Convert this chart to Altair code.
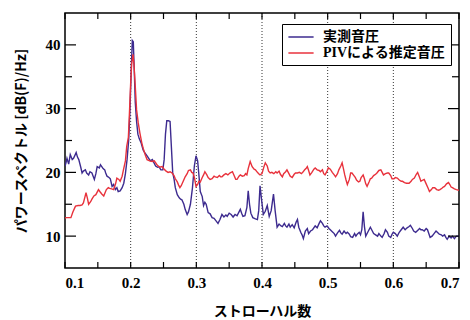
import altair as alt
import pandas as pd

# 実測音圧 (measured)
blue_st = [0.100, 0.1015, 0.103, 0.1056, 0.108, 0.111, 0.113, 0.117, 0.119, 0.121, 0.124, 0.126, 0.128, 0.131, 0.133,
           0.136, 0.138, 0.141, 0.1447, 0.147, 0.149, 0.1523, 0.154, 0.156, 0.158, 0.1605, 0.162, 0.164, 0.167, 0.169,
           0.1717, 0.174, 0.1767, 0.179, 0.181, 0.184, 0.187, 0.1895, 0.192, 0.1945, 0.197, 0.199, 0.201, 0.2025, 0.204,
           0.2055, 0.207, 0.209, 0.211, 0.213, 0.216, 0.219, 0.222, 0.225, 0.2275, 0.230, 0.233, 0.235, 0.238, 0.241,
           0.243, 0.246, 0.249, 0.251, 0.253, 0.255, 0.2575, 0.260, 0.262, 0.264, 0.266, 0.268, 0.271, 0.274, 0.276,
           0.278, 0.281, 0.283, 0.286, 0.288, 0.291, 0.294, 0.297, 0.2995, 0.302, 0.304, 0.306, 0.309, 0.311, 0.313,
           0.315, 0.318, 0.321, 0.324, 0.327, 0.330, 0.333, 0.336, 0.339, 0.342, 0.345, 0.347, 0.350, 0.353, 0.356,
           0.359, 0.362, 0.365, 0.367, 0.369, 0.371, 0.374, 0.377, 0.379, 0.381, 0.383, 0.386, 0.390, 0.393, 0.395,
           0.397, 0.399, 0.402, 0.405, 0.408, 0.411, 0.414, 0.4175, 0.420, 0.423, 0.426, 0.429, 0.431, 0.434, 0.436,
           0.438, 0.441, 0.443, 0.446, 0.449, 0.452, 0.454, 0.456, 0.459, 0.461, 0.463, 0.466, 0.469, 0.471, 0.474,
           0.477, 0.481, 0.484, 0.487, 0.489, 0.492, 0.494, 0.496, 0.499, 0.502, 0.504, 0.507, 0.510, 0.512, 0.515,
           0.518, 0.520, 0.522, 0.525, 0.528, 0.530, 0.533, 0.535, 0.538, 0.541, 0.543, 0.545, 0.548, 0.550, 0.552,
           0.554, 0.556, 0.558, 0.561, 0.563, 0.565, 0.568, 0.570, 0.573, 0.576, 0.578, 0.581, 0.583, 0.586, 0.588,
           0.591, 0.593, 0.596, 0.598, 0.600, 0.603, 0.606, 0.609, 0.612, 0.615, 0.618, 0.621, 0.624, 0.626, 0.629,
           0.631, 0.634, 0.637, 0.640, 0.642, 0.644, 0.647, 0.650, 0.652, 0.654, 0.656, 0.659, 0.662, 0.665, 0.667,
           0.670, 0.673, 0.675, 0.678, 0.680, 0.682, 0.685, 0.688, 0.690, 0.693, 0.696, 0.700]
blue_db = [21.0, 21.5, 22.2, 21.3, 22.8, 22.0, 22.2, 23.1, 22.4, 22.0, 20.8, 19.9, 20.2, 20.4, 19.9,
           19.6, 20.1, 19.9, 18.9, 19.8, 20.9, 20.7, 21.2, 20.9, 20.6, 20.4, 19.9, 19.4, 19.2, 19.0,
           17.8, 18.1, 17.3, 17.6, 17.0, 17.1, 17.6, 18.3, 19.8, 22.0, 25.1, 30.0, 36.5, 40.7, 40.5,
           36.0, 31.0, 28.0, 26.0, 25.3, 24.6, 23.5, 23.0, 22.6, 22.2, 21.8, 22.0, 21.6, 21.0, 20.8,
           20.9, 20.4, 20.4, 22.0, 26.0, 28.1, 28.1, 28.0, 24.0, 20.0, 19.0, 17.6, 16.5, 16.0, 15.8,
           15.7, 15.0, 14.2, 13.4, 13.8, 15.0, 17.5, 21.0, 22.6, 21.8, 19.5, 17.0, 16.2, 14.8, 15.3,
           15.0, 13.7, 13.5, 12.9, 12.8, 12.4, 12.0, 12.6, 13.4, 13.0, 13.3, 13.1, 13.6, 13.4, 13.0,
           13.4, 13.2, 13.8, 14.2, 13.6, 13.1, 13.2, 14.5, 17.1, 15.0, 13.6, 12.9, 12.7, 12.6, 14.0,
           17.9, 16.0, 13.4, 13.9, 14.8, 13.1, 14.0, 16.6, 14.0, 11.4, 11.9, 11.6, 11.5, 12.0, 11.6,
           11.4, 11.9, 11.4, 11.8, 11.3, 12.2, 12.6, 11.4, 10.6, 10.2, 9.6, 10.8, 11.2, 10.4, 10.8,
           11.0, 11.6, 11.3, 12.0, 12.4, 12.0, 11.6, 11.4, 11.6, 11.2, 11.0, 10.7, 10.4, 10.0, 10.5,
           10.9, 10.5, 10.3, 10.8, 10.4, 10.6, 10.3, 9.9, 9.8, 10.4, 10.0, 10.3, 10.6, 10.2, 11.0,
           13.8, 11.5, 10.0, 10.6, 11.0, 11.4, 10.8, 10.4, 10.2, 10.0, 10.4, 10.0, 9.8, 10.4, 11.0,
           10.6, 10.0, 9.8, 10.3, 10.6, 10.4, 10.0, 10.6, 11.0, 11.4, 11.0, 11.3, 11.5, 11.7, 11.2,
           10.8, 10.6, 10.9, 11.2, 11.0, 11.0, 10.8, 11.2, 11.0, 10.4, 9.8, 10.0, 10.4, 10.8, 10.6,
           10.3, 10.2, 10.0, 10.2, 9.8, 9.5, 10.0, 9.7, 10.0, 9.6, 10.0, 10.0]

# PIVによる推定音圧 (estimated)
red_st = [0.100, 0.1015, 0.105, 0.109, 0.112, 0.116, 0.120, 0.123, 0.126, 0.128, 0.130, 0.132, 0.134, 0.136, 0.139,
          0.141, 0.144, 0.147, 0.149, 0.151, 0.153, 0.156, 0.159, 0.161, 0.163, 0.166, 0.168, 0.171, 0.174, 0.177,
          0.179, 0.182, 0.184, 0.187, 0.189, 0.192, 0.194, 0.1965, 0.198, 0.200, 0.2015, 0.2035, 0.205, 0.207, 0.209,
          0.2115, 0.214, 0.217, 0.219, 0.222, 0.225, 0.229, 0.233, 0.236, 0.240, 0.244, 0.248, 0.251, 0.254, 0.257,
          0.260, 0.263, 0.266, 0.268, 0.271, 0.273, 0.275, 0.277, 0.280, 0.283, 0.286, 0.288, 0.291, 0.293, 0.295,
          0.297, 0.2995, 0.302, 0.304, 0.306, 0.309, 0.311, 0.313, 0.316, 0.318, 0.321, 0.324, 0.327, 0.329, 0.332,
          0.335, 0.337, 0.339, 0.342, 0.345, 0.348, 0.351, 0.353, 0.355, 0.358, 0.360, 0.362, 0.365, 0.367, 0.370,
          0.373, 0.375, 0.377, 0.379, 0.382, 0.385, 0.388, 0.390, 0.393, 0.395, 0.397, 0.400, 0.403, 0.405, 0.408,
          0.410, 0.4125, 0.415, 0.418, 0.421, 0.423, 0.426, 0.428, 0.431, 0.433, 0.436, 0.438, 0.441, 0.443, 0.446,
          0.449, 0.451, 0.454, 0.457, 0.460, 0.462, 0.465, 0.467, 0.469, 0.471, 0.473, 0.476, 0.479, 0.481, 0.484,
          0.487, 0.489, 0.492, 0.494, 0.496, 0.499, 0.501, 0.504, 0.507, 0.510, 0.512, 0.515, 0.517, 0.520, 0.522,
          0.524, 0.526, 0.528, 0.530, 0.533, 0.535, 0.537, 0.540, 0.542, 0.544, 0.547, 0.549, 0.551, 0.554, 0.556,
          0.558, 0.560, 0.563, 0.565, 0.567, 0.570, 0.573, 0.575, 0.578, 0.581, 0.583, 0.585, 0.588, 0.591, 0.593,
          0.596, 0.598, 0.601, 0.603, 0.606, 0.609, 0.612, 0.614, 0.617, 0.620, 0.622, 0.624, 0.627, 0.629, 0.632,
          0.635, 0.637, 0.640, 0.642, 0.645, 0.647, 0.650, 0.653, 0.655, 0.658, 0.660, 0.663, 0.666, 0.669, 0.671,
          0.674, 0.676, 0.678, 0.681, 0.684, 0.686, 0.688, 0.690, 0.693, 0.696, 0.700]
red_db = [12.8, 12.9, 12.9, 12.9, 13.8, 14.7, 14.8, 14.8, 14.9, 15.2, 16.0, 16.8, 16.0, 15.0, 15.4,
          15.8, 16.3, 16.5, 16.9, 17.3, 17.0, 16.6, 16.3, 16.8, 17.3, 17.6, 17.5, 17.4, 17.3, 18.2,
          19.1, 18.9, 18.6, 19.4, 20.4, 21.8, 24.1, 25.5, 29.0, 34.0, 37.0, 38.5, 37.0, 33.5, 29.8,
          27.8, 26.2, 24.6, 23.8, 22.8, 22.0, 21.8, 21.7, 21.8, 21.2, 20.8, 20.9, 20.5, 20.2, 20.0,
          20.1, 19.9, 19.5, 19.0, 18.5, 18.0, 17.6, 17.9, 18.6, 19.3, 19.8, 20.3, 20.4, 20.0, 19.9,
          19.2, 17.8, 18.1, 18.6, 18.5, 19.2, 19.6, 20.1, 19.6, 19.2, 18.9, 19.0, 19.4, 19.3, 19.2,
          19.5, 19.3, 19.3, 19.6, 19.8, 19.6, 19.9, 20.0, 20.1, 19.4, 18.9, 18.9, 19.4, 19.6, 19.4,
          19.5, 19.8, 19.6, 20.6, 21.7, 20.9, 20.5, 20.4, 20.0, 19.8, 19.6, 19.8, 20.9, 21.5, 21.0,
          20.2, 19.9, 20.0, 19.8, 20.1, 19.9, 20.2, 19.7, 19.3, 19.8, 20.1, 20.4, 19.8, 19.4, 19.2,
          19.7, 19.9, 19.9, 20.0, 19.8, 20.0, 20.4, 20.6, 20.9, 20.3, 19.6, 20.0, 20.5, 20.7, 20.4,
          20.3, 20.1, 20.4, 19.8, 19.6, 20.2, 20.7, 20.5, 20.0, 19.6, 19.3, 19.8, 20.4, 21.0, 21.5,
          20.6, 19.6, 18.8, 18.1, 18.9, 19.9, 19.9, 19.5, 19.2, 18.8, 18.5, 18.6, 19.2, 19.6, 19.0,
          18.2, 17.8, 18.5, 19.0, 19.1, 19.5, 19.7, 19.9, 20.3, 20.4, 20.0, 19.6, 19.8, 19.9, 19.9,
          19.5, 19.0, 19.0, 19.2, 19.1, 18.8, 18.6, 18.6, 18.4, 18.3, 18.3, 18.3, 18.6, 18.9, 19.1,
          19.7, 20.0, 19.2, 18.6, 18.8, 18.9, 18.2, 17.5, 17.0, 17.3, 17.6, 17.6, 17.3, 17.2, 17.3,
          17.5, 17.7, 17.8, 18.2, 18.4, 18.1, 17.7, 17.6, 17.4, 17.3, 17.2]

series_names = ["実測音圧", "PIVによる推定音圧"]
series_colors = ["#3d2b8f", "#e8323c"]

x_label_values = [0.1, 0.2, 0.3, 0.4, 0.5, 0.6, 0.7]
x_tick_values = [0.1, 0.15, 0.2, 0.25, 0.3, 0.35, 0.4, 0.45, 0.5, 0.55, 0.6, 0.65, 0.7]
y_major_values = [10, 20, 30, 40]
y_minor_values = [15, 25, 35]
grid_x_values = [0.2, 0.3, 0.4, 0.5, 0.6]

W, H = 394, 255
NUM_FONT = "Liberation Serif"
JP_FONT = "Noto Sans CJK JP"

df = pd.concat([
    pd.DataFrame({"st": blue_st, "db": blue_db, "series": series_names[0], "k": 0}),
    pd.DataFrame({"st": red_st, "db": red_db, "series": series_names[1], "k": 1}),
], ignore_index=True)

xs = alt.Scale(domain=[0.1, 0.7], nice=False, zero=False)
ys = alt.Scale(domain=[5, 45], nice=False, zero=False)

x_axis = alt.Axis(values=x_label_values, format=".1f", ticks=False, domain=False, grid=False,
                  labelFont=NUM_FONT, labelFontSize=15, labelFontWeight="bold", labelColor="black",
                  labelPadding=7, title="ストローハル数", titleFont=JP_FONT, titleFontSize=14,
                  titleFontWeight="bold", titleColor="black", titlePadding=14)
y_axis = alt.Axis(values=y_major_values, ticks=False, domain=False, grid=False,
                  labelFont=NUM_FONT, labelFontSize=15, labelFontWeight="bold", labelColor="black",
                  labelPadding=5, title="パワースペクトル [dB(F)/Hz]", titleFont=JP_FONT, titleFontSize=14,
                  titleFontWeight="bold", titleColor="black", titlePadding=17)

grid = alt.Chart(pd.DataFrame({"g": grid_x_values})).mark_rule(
    color="black", strokeWidth=0.8, strokeDash=[1, 2]
).encode(x=alt.X("g:Q", scale=xs, axis=x_axis))

lines = alt.Chart(df).mark_line(strokeWidth=1.4, clip=True).encode(
    x=alt.X("st:Q", scale=xs, axis=x_axis),
    y=alt.Y("db:Q", scale=ys, axis=y_axis),
    color=alt.Color("series:N",
                    scale=alt.Scale(domain=series_names, range=series_colors),
                    legend=alt.Legend(orient="none", legendX=217, legendY=11, title=None,
                                      strokeColor="black", fillColor="white", padding=5,
                                      symbolType="M-1.8,0L1.8,0", symbolSize=196,
                                      symbolStrokeWidth=1.5, symbolOffset=6,
                                      labelFont=NUM_FONT + ", " + JP_FONT, labelFontSize=14,
                                      labelFontWeight="bold", labelColor="black", labelOffset=14,
                                      rowPadding=1, cornerRadius=0)),
    order=alt.Order("k:Q"),
    detail="series:N",
)

ydf_major = pd.DataFrame({"v": y_major_values})
ydf_minor = pd.DataFrame({"v": y_minor_values})
xdf = pd.DataFrame({"v": x_tick_values})

tick_layers = [
    alt.Chart(ydf_major).mark_rule(color="black", strokeWidth=1.2).encode(
        y=alt.Y("v:Q", scale=ys, axis=y_axis), x=alt.value(0), x2=alt.value(11)),
    alt.Chart(ydf_major).mark_rule(color="black", strokeWidth=1.2).encode(
        y=alt.Y("v:Q", scale=ys, axis=y_axis), x=alt.value(W - 11), x2=alt.value(W)),
    alt.Chart(ydf_minor).mark_rule(color="black", strokeWidth=1.2).encode(
        y=alt.Y("v:Q", scale=ys, axis=y_axis), x=alt.value(0), x2=alt.value(7)),
    alt.Chart(ydf_minor).mark_rule(color="black", strokeWidth=1.2).encode(
        y=alt.Y("v:Q", scale=ys, axis=y_axis), x=alt.value(W - 7), x2=alt.value(W)),
    alt.Chart(xdf).mark_rule(color="black", strokeWidth=1.2).encode(
        x=alt.X("v:Q", scale=xs, axis=x_axis), y=alt.value(H - 6), y2=alt.value(H)),
    alt.Chart(xdf).mark_rule(color="black", strokeWidth=1.2).encode(
        x=alt.X("v:Q", scale=xs, axis=x_axis), y=alt.value(0), y2=alt.value(6)),
]

chart = alt.layer(grid, lines, *tick_layers).properties(
    width=W, height=H,
    padding={"left": 65, "top": 13, "right": 11, "bottom": 52},
    autosize=alt.AutoSizeParams(type="none"),
    background="white",
).configure_view(stroke="black", strokeWidth=1.5)

chart.save("out.html", embed_options={"renderer": "svg", "actions": False})
